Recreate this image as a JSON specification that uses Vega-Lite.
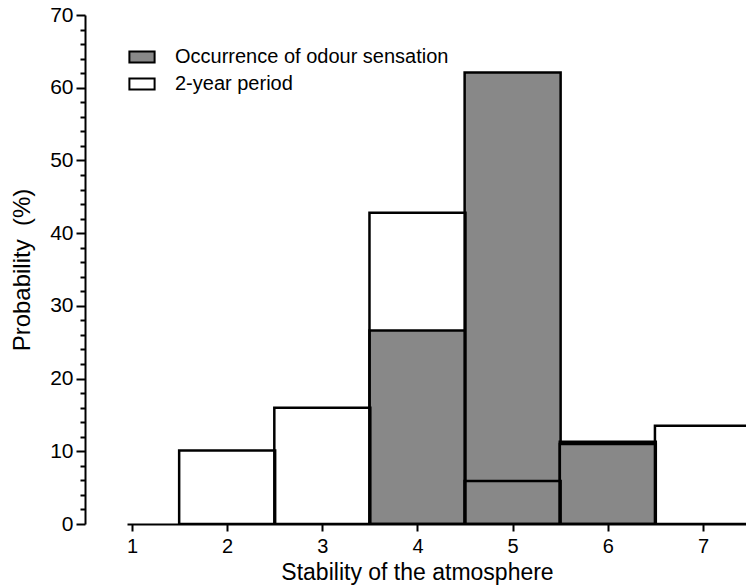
{
  "$schema": "https://vega.github.io/schema/vega-lite/v6.json",
  "width": 619,
  "height": 509,
  "autosize": {"type": "none"},
  "padding": {"left": 127, "top": 15, "right": 0, "bottom": 61},
  "background": "white",
  "config": {"view": {"stroke": null}, "font": "Liberation Sans"},
  "data": {
    "values": [
      {"stability": 4, "series": "Occurrence of odour sensation", "value": 26.6},
      {"stability": 5, "series": "Occurrence of odour sensation", "value": 62.1},
      {"stability": 6, "series": "Occurrence of odour sensation", "value": 11.3},
      {"stability": 2, "series": "2-year period", "value": 10.1},
      {"stability": 3, "series": "2-year period", "value": 16.0},
      {"stability": 4, "series": "2-year period", "value": 42.8},
      {"stability": 5, "series": "2-year period", "value": 5.9},
      {"stability": 6, "series": "2-year period", "value": 11.0},
      {"stability": 7, "series": "2-year period", "value": 13.5}
    ]
  },
  "mark": {"type": "bar", "width": 96, "stroke": "black", "strokeWidth": 2.5, "clip": true, "strokeJoin": "miter"},
  "encoding": {
    "x": {
      "field": "stability",
      "type": "quantitative",
      "scale": {"domain": [1, 7.4], "nice": false, "zero": false},
      "axis": {
        "values": [1, 2, 3, 4, 5, 6, 7],
        "title": "Stability of the atmosphere",
        "grid": false,
        "domainColor": "black",
        "domainWidth": 2,
        "tickColor": "black",
        "tickWidth": 2,
        "tickSize": 7,
        "labelFontSize": 20,
        "labelColor": "black",
        "labelPadding": 5,
        "labelFlush": false,
        "titleFontSize": 23,
        "titleFontWeight": "normal",
        "titleColor": "black",
        "titleX": 290,
        "titlePadding": 5
      }
    },
    "y": {
      "field": "value",
      "type": "quantitative",
      "stack": null,
      "scale": {"domain": [0, 70], "nice": false},
      "axis": {
        "values": [0, 2, 4, 6, 8, 10, 12, 14, 16, 18, 20, 22, 24, 26, 28, 30, 32, 34, 36, 38, 40, 42, 44, 46, 48, 50, 52, 54, 56, 58, 60, 62, 64, 66, 68, 70],
        "labelExpr": "datum.value % 10 === 0 ? datum.label : ''",
        "labelOverlap": false,
        "tickSize": {"condition": {"test": "datum.value % 10 === 0", "value": 9}, "value": 5},
        "offset": 42,
        "grid": false,
        "domainColor": "black",
        "domainWidth": 2,
        "tickColor": "black",
        "tickWidth": 2,
        "labelFontSize": 21,
        "labelColor": "black",
        "labelPadding": 3,
        "labelFlush": false,
        "title": "Probability\u00a0\u00a0(%)",
        "titleFontSize": 24,
        "titleFontWeight": "normal",
        "titleColor": "black",
        "titlePadding": 15
      }
    },
    "fill": {
      "field": "series",
      "type": "nominal",
      "scale": {"domain": ["Occurrence of odour sensation", "2-year period"], "range": ["#888888", "transparent"]},
      "legend": {
        "orient": "none",
        "legendX": 5,
        "legendY": 32,
        "title": null,
        "symbolType": "M-1.4,-0.6H1.4V0.6H-1.4Z",
        "symbolSize": 324,
        "symbolStrokeColor": "black",
        "symbolStrokeWidth": 2,
        "labelFontSize": 20,
        "labelColor": "black",
        "labelOffset": 23,
        "labelLimit": 0,
        "rowPadding": 7
      }
    }
  }
}
